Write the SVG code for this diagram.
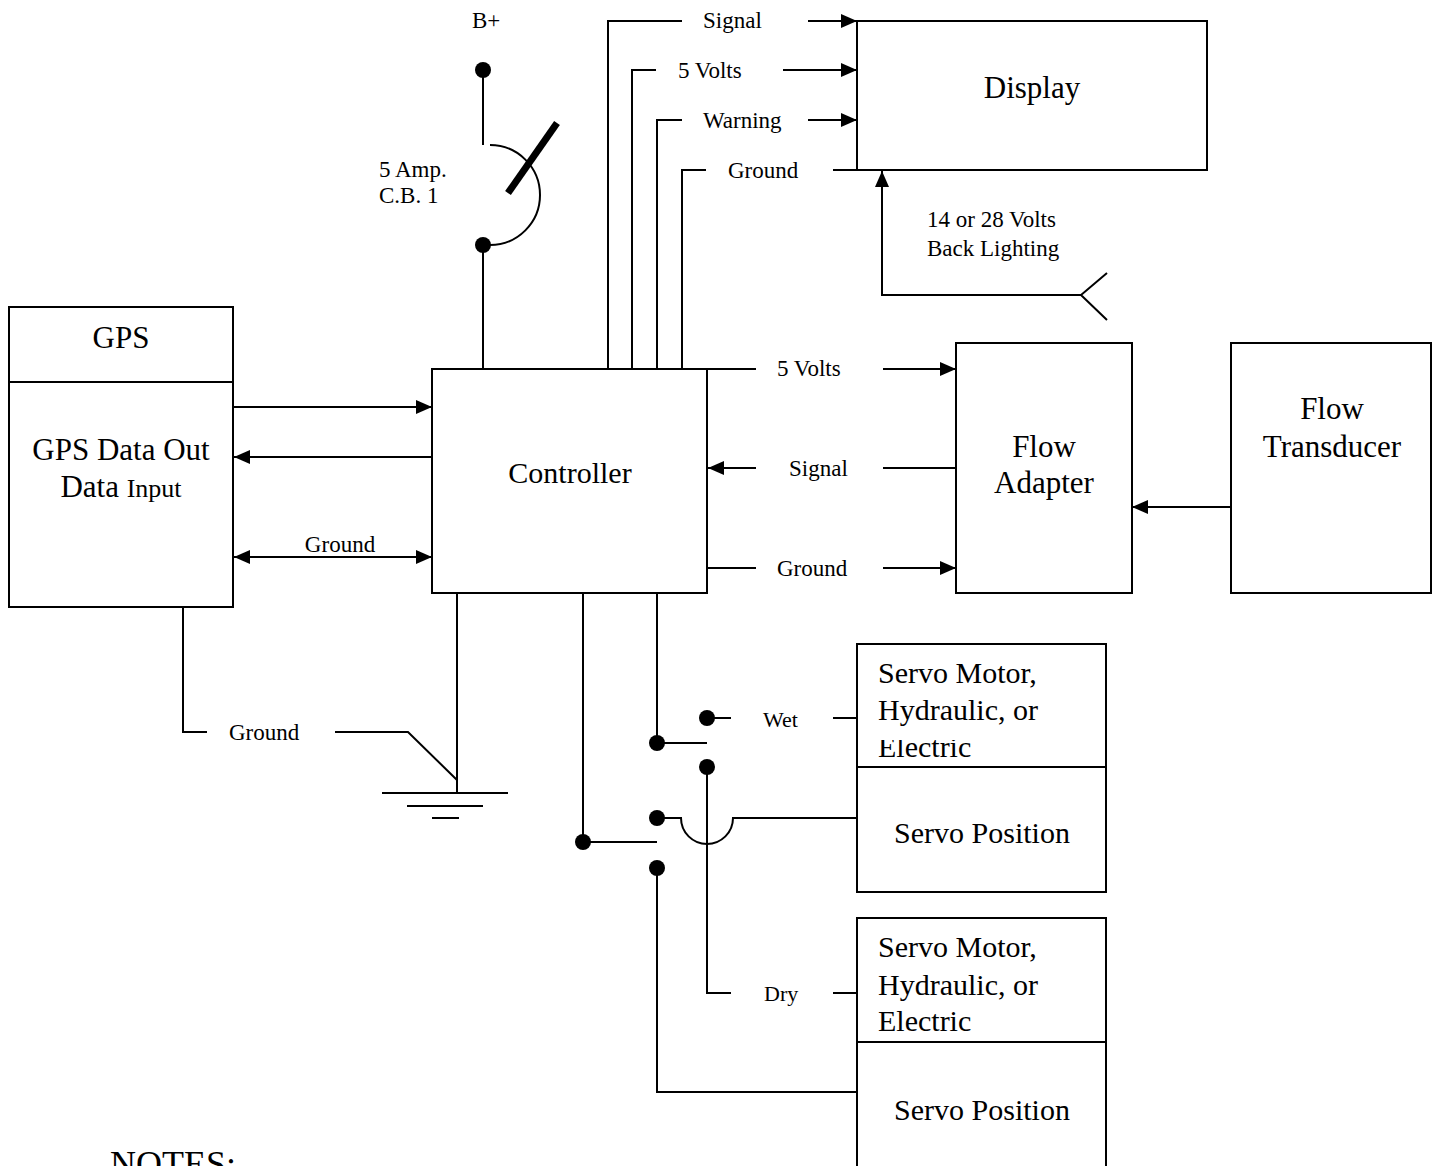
<svg xmlns="http://www.w3.org/2000/svg" width="1437" height="1166" viewBox="0 0 1437 1166" font-family="'Liberation Serif', 'Times New Roman', 'DejaVu Serif', serif">
<style>
.box{fill:#fff;stroke:#000;stroke-width:2}
.w{fill:none;stroke:#000;stroke-width:2}
.thick{fill:none;stroke:#000;stroke-width:7}
.dot{fill:#000}
text{font-family:'Liberation Serif','Times New Roman','DejaVu Serif',serif;fill:#000}
.big{font-size:31px}
.mid{font-size:30px}
.sm{font-size:23px}
.xs{font-size:22px}
.c{text-anchor:middle}
</style>
<defs>
<marker id="ah" viewBox="0 0 16 14" refX="16" refY="7" markerWidth="16" markerHeight="14" markerUnits="userSpaceOnUse" orient="auto-start-reverse">
<path d="M0,0 L16,7 L0,14 z" fill="#000"/>
</marker>
<clipPath id="clipE"><rect x="857" y="740" width="250" height="27"/></clipPath>
</defs>
<rect width="1437" height="1166" fill="#fff"/>

<g id="connectors">
<!-- breaker -->
<line class="w" x1="483" y1="70" x2="483" y2="145"/>
<path class="w" d="M490,145 A50,50 0 0 1 490,245 L483,245"/>
<line class="thick" x1="508" y1="193" x2="557" y2="123"/>
<line class="w" x1="483" y1="245" x2="483" y2="369"/>
<!-- display wires -->
<polyline class="w" points="608,369 608,21 682,21"/>
<line class="w" x1="808" y1="21" x2="857" y2="21" marker-end="url(#ah)"/>
<polyline class="w" points="632,369 632,70 656,70"/>
<line class="w" x1="783" y1="70" x2="857" y2="70" marker-end="url(#ah)"/>
<polyline class="w" points="657,369 657,120 682,120"/>
<line class="w" x1="808" y1="120" x2="857" y2="120" marker-end="url(#ah)"/>
<polyline class="w" points="682,369 682,170 706,170"/>
<line class="w" x1="833" y1="170" x2="857" y2="170"/>
<!-- back lighting -->
<polyline class="w" points="1081,295 882,295 882,171" marker-end="url(#ah)"/>
<polyline class="w" points="1107,273 1081,295 1107,320"/>
<!-- GPS to controller -->
<line class="w" x1="233" y1="407" x2="432" y2="407" marker-end="url(#ah)"/>
<line class="w" x1="432" y1="457" x2="234" y2="457" marker-end="url(#ah)"/>
<line class="w" x1="234" y1="557" x2="432" y2="557" marker-start="url(#ah)" marker-end="url(#ah)"/>
<!-- controller to flow adapter -->
<line class="w" x1="707" y1="369" x2="756" y2="369"/>
<line class="w" x1="883" y1="369" x2="956" y2="369" marker-end="url(#ah)"/>
<line class="w" x1="756" y1="468" x2="708" y2="468" marker-end="url(#ah)"/>
<line class="w" x1="883" y1="468" x2="957" y2="468"/>
<line class="w" x1="707" y1="568" x2="756" y2="568"/>
<line class="w" x1="883" y1="568" x2="956" y2="568" marker-end="url(#ah)"/>
<!-- transducer to adapter -->
<line class="w" x1="1231" y1="507" x2="1132" y2="507" marker-end="url(#ah)"/>
<!-- grounds -->
<polyline class="w" points="183,607 183,732 207,732"/>
<polyline class="w" points="335,732 408,732 457,780"/>
<line class="w" x1="457" y1="593" x2="457" y2="793"/>
<line class="w" x1="382" y1="793" x2="508" y2="793"/>
<line class="w" x1="407" y1="806" x2="483" y2="806"/>
<line class="w" x1="432" y1="818" x2="459" y2="818"/>
<!-- switches -->
<polyline class="w" points="657,593 657,743 707,743"/>
<polyline class="w" points="583,593 583,842 657,842"/>
<line class="w" x1="707" y1="718" x2="731" y2="718"/>
<line class="w" x1="833" y1="718" x2="857" y2="718"/>
<polyline class="w" points="707,767 707,993 731,993"/>
<line class="w" x1="833" y1="993" x2="857" y2="993"/>
<path class="w" d="M657,818 L681,818 A26,26 0 0 0 733,818 L857,818"/>
<polyline class="w" points="657,868 657,1092 857,1092"/>
<circle class="dot" cx="483" cy="70" r="8"/>
<circle class="dot" cx="483" cy="245" r="8"/>
<circle class="dot" cx="657" cy="743" r="8"/>
<circle class="dot" cx="583" cy="842" r="8"/>
<circle class="dot" cx="707" cy="718" r="8"/>
<circle class="dot" cx="707" cy="767" r="8"/>
<circle class="dot" cx="657" cy="818" r="8"/>
<circle class="dot" cx="657" cy="868" r="8"/>
<!-- labels -->
<text class="sm" x="472" y="28">B+</text>
<text class="sm" x="379" y="177">5 Amp.</text>
<text class="sm" x="379" y="203">C.B. 1</text>
<text class="sm" x="703" y="28">Signal</text>
<text class="sm" x="678" y="78">5 Volts</text>
<text class="sm" x="703" y="128">Warning</text>
<text class="sm" x="728" y="178">Ground</text>
<text class="sm" x="927" y="227">14 or 28 Volts</text>
<text class="sm" x="927" y="256">Back Lighting</text>
<text class="sm c" x="340" y="552">Ground</text>
<text class="sm" x="777" y="376">5 Volts</text>
<text class="sm" x="789" y="476">Signal</text>
<text class="sm" x="777" y="576">Ground</text>
<text class="sm" x="229" y="740">Ground</text>
<text class="xs" x="763" y="727">Wet</text>
<text class="xs" x="764" y="1001">Dry</text>
</g>

<g id="display">
<rect class="box" x="857" y="21" width="350" height="149"/>
<text class="big c" x="1032" y="98">Display</text>
</g>

<g id="gps">
<rect class="box" x="9" y="307" width="224" height="300"/>
<line class="w" x1="9" y1="382" x2="233" y2="382"/>
<text class="big c" x="121" y="348">GPS</text>
<text class="big c" x="121" y="460">GPS Data Out</text>
<text class="big c" x="121" y="497">Data <tspan font-size="26">Input</tspan></text>
</g>

<g id="controller">
<rect class="box" x="432" y="369" width="275" height="224"/>
<text class="mid c" x="570" y="483">Controller</text>
</g>

<g id="flow-adapter">
<rect class="box" x="956" y="343" width="176" height="250"/>
<text class="big c" x="1044" y="457">Flow</text>
<text class="big c" x="1044" y="493">Adapter</text>
</g>

<g id="flow-transducer">
<rect class="box" x="1231" y="343" width="200" height="250"/>
<text class="big c" x="1332" y="419">Flow</text>
<text class="big c" x="1332" y="457">Transducer</text>
</g>

<g id="servo-wet">
<rect class="box" x="857" y="644" width="249" height="248"/>
<line class="w" x1="857" y1="767" x2="1106" y2="767"/>
<text class="mid" x="878" y="683">Servo Motor,</text>
<text class="mid" x="878" y="720">Hydraulic, or</text>
<text class="mid" x="878" y="757" clip-path="url(#clipE)">Electric</text>
<text class="mid c" x="982" y="843">Servo Position</text>
</g>

<g id="servo-dry">
<rect class="box" x="857" y="918" width="249" height="270"/>
<line class="w" x1="857" y1="1042" x2="1106" y2="1042"/>
<text class="mid" x="878" y="957">Servo Motor,</text>
<text class="mid" x="878" y="995">Hydraulic, or</text>
<text class="mid" x="878" y="1031">Electric</text>
<text class="mid c" x="982" y="1120">Servo Position</text>
</g>

<g id="notes">
<text font-size="36" x="110" y="1176">NOTES:</text>
</g>
</svg>
